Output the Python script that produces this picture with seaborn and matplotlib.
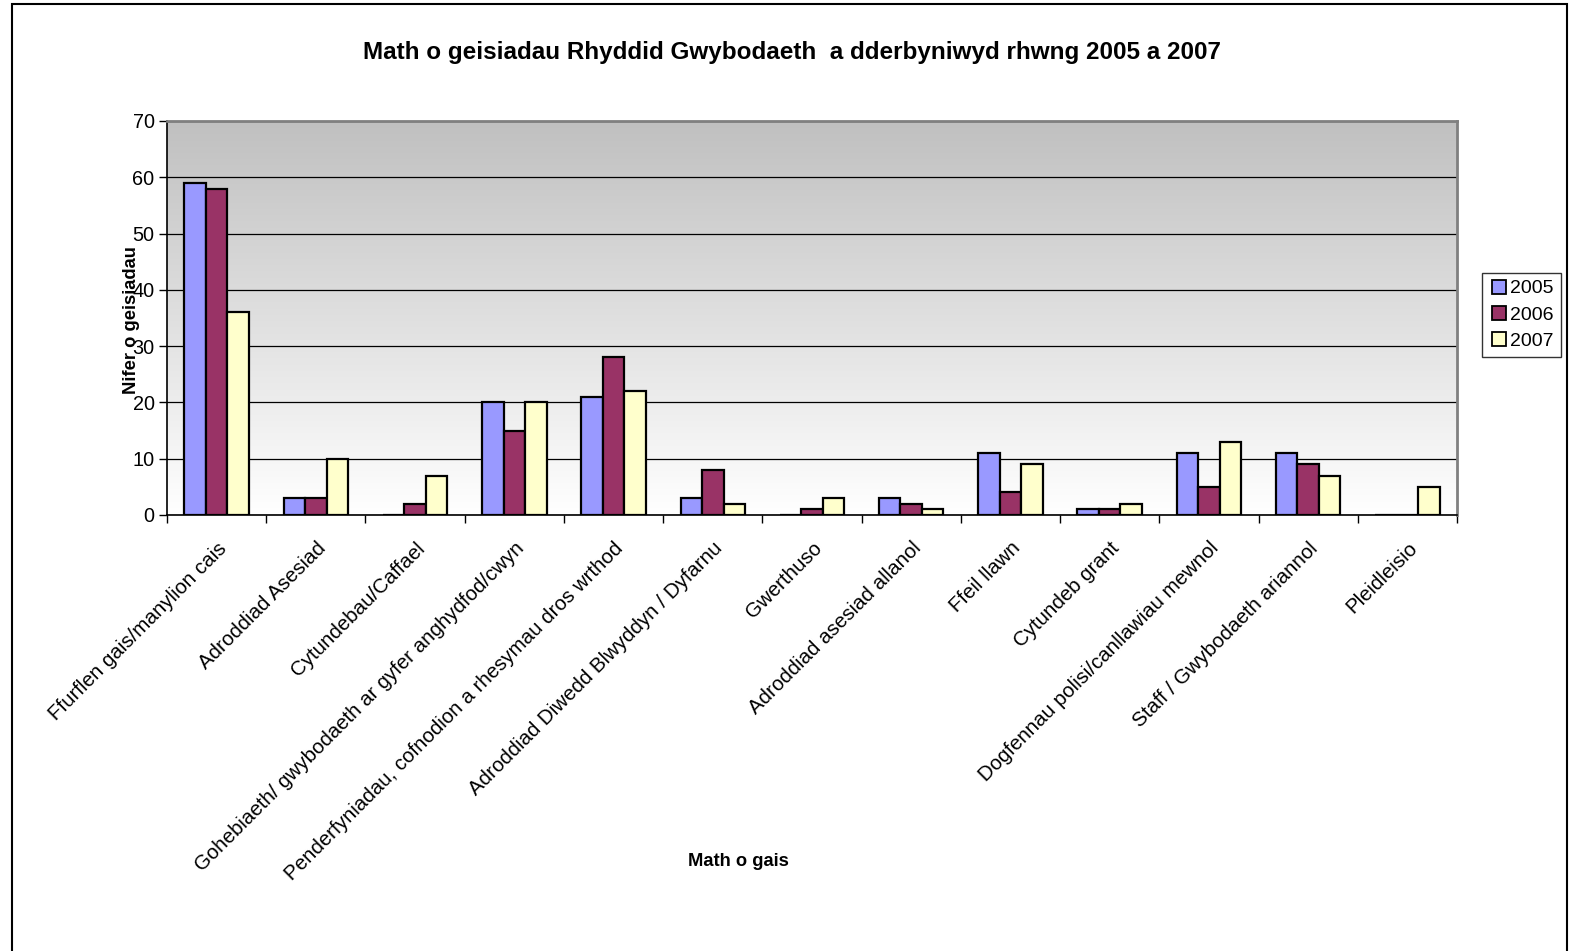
import numpy as np
import pandas as pd
import matplotlib.pyplot as plt
import matplotlib.patches as mpatches
from matplotlib.lines import Line2D
from matplotlib.colors import LinearSegmentedColormap
import seaborn as sns

categories = [
    "Ffurflen gais/manylion cais",
    "Adroddiad Asesiad",
    "Cytundebau/Caffael",
    "Gohebiaeth/ gwybodaeth ar gyfer anghydfod/cwyn",
    "Penderfyniadau, cofnodion a rhesymau dros wrthod",
    "Adroddiad Diwedd Blwyddyn / Dyfarnu",
    "Gwerthuso",
    "Adroddiad asesiad allanol",
    "Ffeil llawn",
    "Cytundeb grant",
    "Dogfennau polisi/canllawiau mewnol",
    "Staff / Gwybodaeth ariannol",
    "Pleidleisio",
]
years = ["2005", "2006", "2007"]
v2005 = [59, 3, 0, 20, 21, 3, 0, 3, 11, 1, 11, 11, 0]
v2006 = [58, 3, 2, 15, 28, 8, 1, 2, 4, 1, 5, 9, 0]
v2007 = [36, 10, 7, 20, 22, 2, 3, 1, 9, 2, 13, 7, 5]
colors = ["#9999FF", "#993366", "#FFFFCC"]

df = pd.DataFrame({
    "cat": categories * 3,
    "year": [y for y in years for _ in categories],
    "value": v2005 + v2006 + v2007,
})

sns.set_style("white")
plt.rcParams['font.family'] = ['Liberation Sans', 'DejaVu Sans']
plt.rcParams['text.color'] = 'black'
plt.rcParams['xtick.color'] = 'black'
plt.rcParams['ytick.color'] = 'black'

fig = plt.figure(figsize=(15.75, 9.51), dpi=100)
ax = fig.add_axes([167 / 1575, 1 - 515 / 951, 1290 / 1575, 394 / 951])

# grey-to-white gradient behind the bars
grad = np.linspace(0, 1, 256).reshape(-1, 1)
cmap = LinearSegmentedColormap.from_list("bg", ["#c0c0c0", "#ffffff"])
ax.imshow(grad, aspect="auto", cmap=cmap, extent=(0, 1, 0, 1),
          transform=ax.transAxes, zorder=0, origin="upper")

sns.barplot(data=df, x="cat", y="value", hue="year", palette=colors,
            edgecolor="black", linewidth=1.6, width=0.65, ax=ax,
            legend=False, zorder=3, saturation=1)

ax.set_xlim(-0.5, len(categories) - 0.5)
ax.set_ylim(0, 70)
ax.set_yticks(range(0, 71, 10))
ax.yaxis.grid(True, color="black", linewidth=0.9, zorder=1)
ax.set_axisbelow(True)

ax.set_xticks(range(len(categories)))
ax.set_xticklabels(categories, rotation=45, ha="right", va="top",
                   rotation_mode="anchor", fontsize=14.8)
ax.set_xticks(np.arange(-0.5, len(categories), 1.0), minor=True)
ax.tick_params(axis="x", which="major", length=0, pad=17)
ax.tick_params(axis="x", which="minor", length=6, width=1, color="black",
               direction="out", bottom=True)
ax.tick_params(axis="y", length=6, width=1, color="black", direction="out",
               left=True, labelsize=14.3, pad=3)

for s in ["left", "bottom"]:
    ax.spines[s].set_color("black")
    ax.spines[s].set_linewidth(1.2)
for s in ["top", "right"]:
    ax.spines[s].set_color("#808080")
    ax.spines[s].set_linewidth(2)

ax.set_xlabel("")
ax.set_ylabel("")

fig.text(792 / 1575, 1 - 53 / 951,
         "Math o geisiadau Rhyddid Gwybodaeth  a dderbyniwyd rhwng 2005 a 2007",
         ha="center", va="center", fontsize=17.5, fontweight="bold")
fig.text(738 / 1575, 1 - 862 / 951, "Math o gais", ha="center", va="center",
         fontsize=13.2, fontweight="bold")
fig.text(131 / 1575, 1 - 320 / 951, "Nifer o geisiadau", ha="center",
         va="center", rotation=90, fontsize=13.2, fontweight="bold")

handles = [Line2D([0], [0], marker="s", linestyle="none", markersize=10,
                  markerfacecolor=c, markeredgecolor="black",
                  markeredgewidth=1.3) for c in colors]
leg = fig.legend(handles, years, loc="center left",
                 bbox_to_anchor=(1482 / 1575, 1 - 315 / 951), fontsize=14,
                 frameon=True, fancybox=False, edgecolor="black",
                 handletextpad=0.1, handlelength=1.0, labelspacing=0.45,
                 borderpad=0.35, borderaxespad=0)
leg.get_frame().set_linewidth(1.0)

# outer chart frame, bottom edge falls outside the image
fig.patches.append(mpatches.Rectangle((12 / 1575, -0.05), 1555 / 1575,
                                      1.05 - 4 / 951, transform=fig.transFigure,
                                      fill=False, edgecolor="black",
                                      linewidth=1.5, clip_on=False))

fig.savefig("out.png", dpi=100)
